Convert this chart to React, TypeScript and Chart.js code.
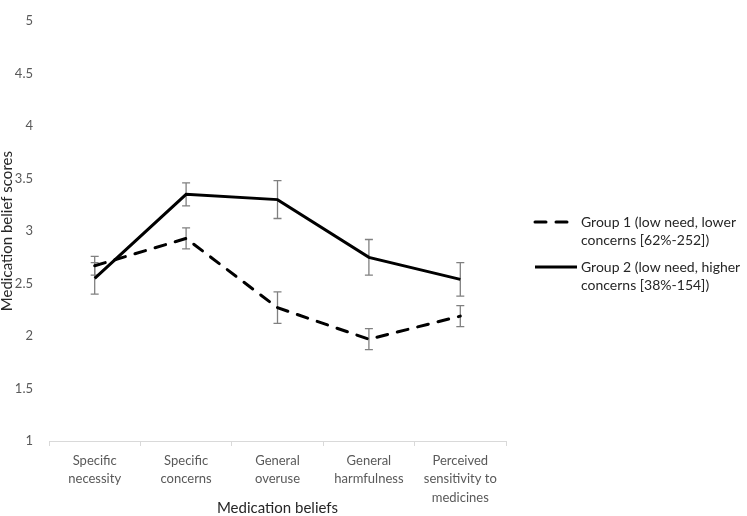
import React, { useEffect, useRef } from 'react';
import { Chart, registerables } from 'chart.js';

Chart.register(...registerables);

const categories: string[][] = [
  ['Specific', 'necessity'],
  ['Specific', 'concerns'],
  ['General', 'overuse'],
  ['General', 'harmfulness'],
  ['Perceived', 'sensitivity to', 'medicines'],
];
const group1Label: string[] = ['Group 1 (low need, lower', 'concerns [62%-252])'];
const group2Label: string[] = ['Group 2 (low need, higher', 'concerns [38%-154])'];
const group1Means: number[] = [2.67, 2.93, 2.27, 1.97, 2.19];
const group1Errors: number[] = [0.09, 0.1, 0.15, 0.1, 0.1];
const group2Means: number[] = [2.55, 3.35, 3.3, 2.75, 2.54];
const group2Errors: number[] = [0.15, 0.11, 0.18, 0.17, 0.16];
const yMin = 1;
const yMax = 5;
const yStep = 0.5;
const xTitle = 'Medication beliefs';
const yTitle = 'Medication belief scores';

const FONT = 'Lato, "Open Sans", sans-serif';
const errorSets: number[][] = [group1Errors, group2Errors];

const errorBarPlugin = {
  id: 'errorBars',
  beforeDatasetsDraw(chart: any) {
    const { ctx, scales } = chart;
    const x = scales.x;
    const y = scales.y;
    ctx.save();
    ctx.strokeStyle = '#808080';
    ctx.lineWidth = 1.3;
    chart.data.datasets.forEach((ds: any, i: number) => {
      const errs = errorSets[i];
      ds.data.forEach((v: number, j: number) => {
        const px = x.getPixelForValue(j);
        const top = y.getPixelForValue(v + errs[j]);
        const bot = y.getPixelForValue(v - errs[j]);
        ctx.beginPath();
        ctx.moveTo(px, top);
        ctx.lineTo(px, bot);
        ctx.moveTo(px - 4, top);
        ctx.lineTo(px + 4, top);
        ctx.moveTo(px - 4, bot);
        ctx.lineTo(px + 4, bot);
        ctx.stroke();
      });
    });
    ctx.restore();
  },
};

const legendPlugin = {
  id: 'sideLegend',
  afterDraw(chart: any) {
    const { ctx } = chart;
    const items = [
      { label: group1Label, dash: [11, 10], y: 222 },
      { label: group2Label, dash: [], y: 267 },
    ];
    ctx.save();
    items.forEach((it) => {
      ctx.beginPath();
      ctx.strokeStyle = '#000';
      ctx.lineWidth = 3;
      ctx.lineCap = it.dash.length ? 'round' : 'butt';
      ctx.setLineDash(it.dash);
      ctx.moveTo(535, it.y);
      ctx.lineTo(577, it.y);
      ctx.stroke();
      ctx.setLineDash([]);
      ctx.fillStyle = '#262626';
      ctx.font = `14px ${FONT}`;
      ctx.textBaseline = 'middle';
      ctx.textAlign = 'left';
      it.label.forEach((line, k) => {
        ctx.fillText(line, 581, it.y + k * 18);
      });
    });
    ctx.restore();
  },
};

export default function App() {
  const ref = useRef<HTMLCanvasElement | null>(null);
  useEffect(() => {
    if (!ref.current) return;
    const chart = new Chart(ref.current, {
      type: 'line',
      data: {
        labels: categories as any,
        datasets: [
          {
            label: group1Label.join(' '),
            data: group1Means,
            borderColor: '#000',
            borderWidth: 3,
            borderDash: [11, 10],
            borderCapStyle: 'round',
            pointRadius: 0,
            tension: 0,
            fill: false,
          },
          {
            label: group2Label.join(' '),
            data: group2Means,
            borderColor: '#000',
            borderWidth: 3,
            pointRadius: 0,
            tension: 0,
            fill: false,
          },
        ],
      },
      options: {
        animation: false,
        responsive: true,
        maintainAspectRatio: false,
        layout: { padding: { left: 0, right: 241, top: 0, bottom: 0 } },
        plugins: {
          legend: { display: false },
          tooltip: { enabled: false },
        },
        scales: {
          x: {
            type: 'category',
            offset: true,
            grid: {
              display: true,
              drawOnChartArea: false,
              drawTicks: true,
              tickLength: 5,
              color: '#d9d9d9',
              offset: true,
            },
            border: { display: true, color: '#d9d9d9', width: 1 },
            ticks: {
              color: '#595959',
              font: { family: FONT, size: 13, lineHeight: 1.45 },
              padding: 5,
              maxRotation: 0,
              autoSkip: false,
            },
            title: {
              display: true,
              text: xTitle,
              color: '#262626',
              font: { family: FONT, size: 15 },
              padding: { top: 0, bottom: -1 },
            },
            afterFit(s: any) {
              s.height = 75;
            },
          },
          y: {
            min: yMin,
            max: yMax,
            ticks: {
              stepSize: yStep,
              color: '#595959',
              font: { family: FONT, size: 13, lineHeight: 0.8 },
              padding: 16,
              callback: (v: any) => String(Number(v)),
            },
            grid: { display: false, drawTicks: false },
            border: { display: false },
            title: {
              display: true,
              text: yTitle,
              color: '#262626',
              font: { family: FONT, size: 15, lineHeight: 1.0 },
              padding: { top: 0, bottom: 0 },
            },
            afterFit(s: any) {
              s.width = 49;
            },
          },
        },
      } as any,
      plugins: [errorBarPlugin, legendPlugin],
    });
    return () => chart.destroy();
  }, []);
  return (
    <div style={{ position: 'absolute', left: 0, top: 0, width: 747, height: 516 }}>
      <canvas ref={ref} />
    </div>
  );
}
